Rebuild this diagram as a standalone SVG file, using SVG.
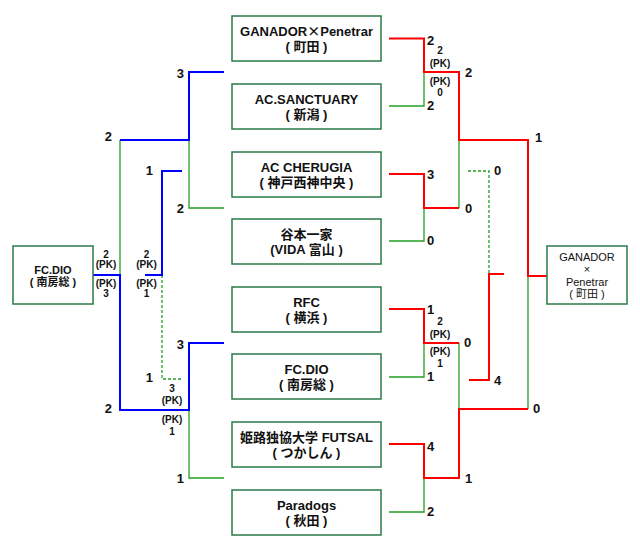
<svg xmlns="http://www.w3.org/2000/svg" width="640" height="550" viewBox="0 0 640 550">
<style>
.box{fill:#fff;stroke:#2a7a48;stroke-width:1.5}
.t{font-family:"Liberation Sans","Noto Sans CJK JP",sans-serif;font-weight:bold;font-size:13px;fill:#111;text-anchor:middle}
.f{font-family:"Liberation Sans","Noto Sans CJK JP",sans-serif;font-size:11px;fill:#111;text-anchor:middle}
.s{font-family:"Liberation Sans",sans-serif;font-weight:bold;font-size:13px;fill:#111}
.e{text-anchor:end}
.p{font-family:"Liberation Sans",sans-serif;font-weight:bold;font-size:10px;fill:#111;text-anchor:middle}
.r{fill:none;stroke:#ff0000;stroke-width:2}
.b{fill:none;stroke:#0000ff;stroke-width:2}
.g{fill:none;stroke:#22a022;stroke-width:1.3}
.d{fill:none;stroke:#22a022;stroke-width:1.3;stroke-dasharray:3 2}
</style>
<g id="connectors">
<path class="g" d="M389,106 H424 V72"/>
<path class="g" d="M389,241 H424 V208"/>
<path class="g" d="M459,208 V140"/>
<path class="g" d="M389,377 H424 V343"/>
<path class="g" d="M459,343 V409"/>
<path class="g" d="M528,409 V276"/>
<path class="g" d="M389,512 H424 V478"/>
<path class="d" d="M468,171 H489 V274"/>
<path class="r" d="M389,38.5 H424 V72 H459 V140 H528 V276 H547"/>
<path class="r" d="M389,174 H424 V208 H459"/>
<path class="r" d="M504,274 H489 V380 H469"/>
<path class="r" d="M389,309 H424 V343 H459"/>
<path class="r" d="M389,444 H424 V478 H459 V409 H528"/>
<path class="g" d="M224,208 H189 V140"/>
<path class="g" d="M120,140 V275"/>
<path class="g" d="M224,478 H189 V410"/>
<path class="d" d="M162,275 V379 H182"/>
<path class="b" d="M224,72 H189 V140 H120"/>
<path class="b" d="M182,171 H162 V275 H145"/>
<path class="b" d="M224,343 H189 V410 H120 V275 H93"/>
</g>
<g id="team1"><rect class="box" x="232" y="16" width="149" height="45"/><text class="t" x="306.5" y="35.5">GANADOR<tspan font-family="Noto Sans CJK JP">×</tspan>Penetrar</text><text class="t" x="306.5" y="50.5">( 町田 )</text></g>
<g id="team2"><rect class="box" x="232" y="84" width="149" height="45"/><text class="t" x="306.5" y="103.5">AC.SANCTUARY</text><text class="t" x="306.5" y="118.5">( 新潟 )</text></g>
<g id="team3"><rect class="box" x="232" y="152" width="149" height="45"/><text class="t" x="306.5" y="171.5">AC CHERUGIA</text><text class="t" x="306.5" y="186.5">( 神戸西神中央 )</text></g>
<g id="team4"><rect class="box" x="232" y="219" width="149" height="45"/><text class="t" x="306.5" y="238.5">谷本一家</text><text class="t" x="306.5" y="253.5">(VIDA 富山 )</text></g>
<g id="team5"><rect class="box" x="232" y="287" width="149" height="45"/><text class="t" x="306.5" y="306.5">RFC</text><text class="t" x="306.5" y="321.5">( 横浜 )</text></g>
<g id="team6"><rect class="box" x="232" y="354" width="149" height="45"/><text class="t" x="306.5" y="373.5">FC.DIO</text><text class="t" x="306.5" y="388.5">( 南房総 )</text></g>
<g id="team7"><rect class="box" x="232" y="422" width="149" height="45"/><text class="t" x="306.5" y="441.5">姫路独協大学 FUTSAL</text><text class="t" x="306.5" y="456.5">( つかしん )</text></g>
<g id="team8"><rect class="box" x="232" y="490" width="149" height="45"/><text class="t" x="306.5" y="509.5">Paradogs</text><text class="t" x="306.5" y="524.5">( 秋田 )</text></g>
<g id="champion-left"><rect class="box" x="13" y="246" width="80" height="58"/><text class="f" font-weight="bold" x="53" y="273.5">FC.DIO</text><text class="f" font-weight="bold" x="53" y="286">( 南房総 )</text></g>
<g id="champion-right"><rect class="box" x="547" y="246" width="80" height="58"/><text class="f" x="587" y="261">GANADOR</text><text class="f" x="587" y="273">×</text><text class="f" x="587" y="286">Penetrar</text><text class="f" x="587" y="297.5">( 町田 )</text></g>
<g id="scores">
<text class="s" x="427" y="45">2</text>
<text class="p" x="440" y="53.5">2</text>
<text class="p" x="440" y="66.5">(PK)</text>
<text class="p" x="440" y="84.7">(PK)</text>
<text class="p" x="440" y="96.3">0</text>
<text class="s" x="427" y="110">2</text>
<text class="s" x="465" y="77.4">2</text>
<text class="s" x="535" y="142">1</text>
<text class="s" x="427" y="178.7">3</text>
<text class="s" x="465" y="212.7">0</text>
<text class="s" x="427" y="245">0</text>
<text class="s" x="494" y="175.4">0</text>
<text class="s" x="427" y="314">1</text>
<text class="p" x="440" y="325.3">2</text>
<text class="p" x="440" y="337.7">(PK)</text>
<text class="s" x="464" y="347.4">0</text>
<text class="p" x="440" y="355.4">(PK)</text>
<text class="p" x="440" y="366.6">1</text>
<text class="s" x="427" y="381.4">1</text>
<text class="s" x="494" y="384.7">4</text>
<text class="s" x="533" y="413">0</text>
<text class="s" x="427" y="451.4">4</text>
<text class="s" x="465" y="482.7">1</text>
<text class="s" x="427" y="516.4">2</text>
<text class="s e" x="184" y="77.7">3</text>
<text class="s e" x="112" y="140.7">2</text>
<text class="s e" x="153" y="174.7">1</text>
<text class="s e" x="184" y="212.7">2</text>
<text class="p" x="106" y="257.5">2</text>
<text class="p" x="106" y="268">(PK)</text>
<text class="p" x="106" y="287">(PK)</text>
<text class="p" x="106" y="297">3</text>
<text class="p" x="146.5" y="257.5">2</text>
<text class="p" x="146.5" y="268">(PK)</text>
<text class="p" x="146.5" y="287">(PK)</text>
<text class="p" x="146.5" y="297">1</text>
<text class="s e" x="184" y="348.7">3</text>
<text class="s e" x="153" y="381.7">1</text>
<text class="p" x="172" y="392">3</text>
<text class="p" x="172" y="404.4">(PK)</text>
<text class="s e" x="112" y="413">2</text>
<text class="p" x="172" y="423">(PK)</text>
<text class="p" x="172" y="434.6">1</text>
<text class="s e" x="184" y="482.7">1</text>
</g>
</svg>
